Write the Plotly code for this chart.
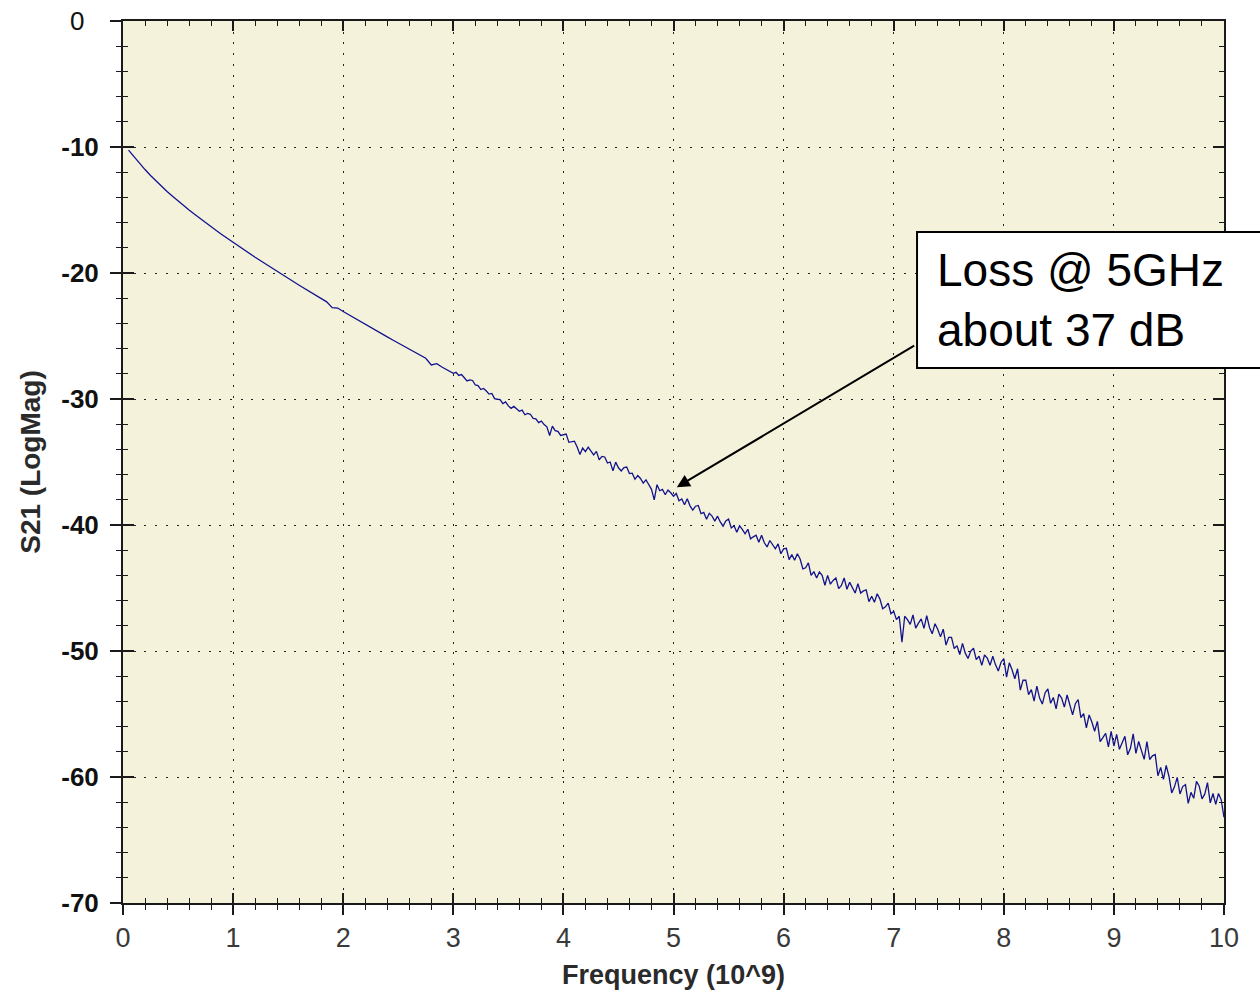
import plotly.graph_objects as go

# ---- data ----
# smooth low-frequency part, 0.05 GHz grid
freq_lo = [round(0.05 * i, 3) for i in range(1, 61)]
s21_lo = [
    -10.25, -10.78, -11.29, -11.79, -12.26, -12.71, -13.13, -13.53, -13.91, -14.29,
    -14.65, -15.00, -15.34, -15.68, -16.00, -16.33, -16.65, -16.96, -17.27, -17.57,
    -17.87, -18.16, -18.46, -18.75, -19.03, -19.32, -19.60, -19.88, -20.15, -20.43,
    -20.70, -20.97, -21.24, -21.50, -21.77, -22.03, -22.29, -22.75, -22.78, -23.06,
    -23.32, -23.57, -23.82, -24.08, -24.33, -24.58, -24.82, -25.07, -25.32, -25.56,
    -25.80, -26.05, -26.29, -26.53, -26.77, -27.30, -27.20, -27.48, -27.72, -27.96,
]
# noisy high-frequency part, 0.025 GHz grid (3.025 .. 10.0)
freq_hi = [round(3.0 + 0.025 * i, 3) for i in range(1, 281)]
s21_hi = [
    # 3.0 - 4.0
    -27.88, -28.13, -28.06, -28.33, -28.57, -28.49, -28.53, -28.89, -28.93, -29.25,
    -29.16, -29.37, -29.61, -29.56, -29.97, -30.02, -30.05, -30.36, -30.23, -30.55,
    -30.74, -30.59, -30.77, -30.98, -30.88, -31.25, -31.15, -31.21, -31.54, -31.58,
    -31.87, -31.76, -32.03, -32.21, -32.90, -32.15, -32.51, -32.57, -32.89, -32.81,
    # 4.0 - 5.0
    -32.78, -33.44, -33.38, -33.35, -33.81, -34.40, -33.89, -34.17, -33.82, -34.09,
    -34.43, -34.16, -34.83, -34.56, -34.60, -35.08, -35.00, -35.70, -35.01, -35.46,
    -35.71, -35.45, -35.40, -35.92, -35.89, -36.37, -36.07, -36.31, -36.68, -36.41,
    -36.84, -37.17, -38.00, -36.80, -37.28, -37.17, -37.60, -37.22, -37.44, -37.72,
    # 5.0 - 6.0
    -37.50, -38.08, -37.94, -38.40, -37.91, -38.48, -38.82, -38.51, -38.45, -39.10,
    -39.00, -39.54, -39.07, -39.29, -39.69, -39.30, -39.76, -40.09, -39.68, -39.52,
    -40.23, -40.06, -40.58, -40.07, -40.35, -40.70, -40.34, -41.10, -40.94, -40.81,
    -41.37, -40.82, -41.41, -41.74, -41.23, -41.52, -41.89, -41.50, -42.28, -41.89,
    # 6.0 - 7.0
    -41.85, -42.75, -42.35, -42.80, -42.28, -42.70, -43.48, -43.40, -43.00, -44.00,
    -43.70, -44.20, -43.73, -44.00, -44.78, -44.00, -44.70, -44.40, -44.20, -45.05,
    -44.80, -44.20, -45.10, -44.55, -44.95, -45.40, -44.65, -45.40, -45.23, -45.15,
    -46.08, -45.65, -46.13, -45.45, -45.88, -46.65, -46.50, -46.20, -47.05, -46.85,
    # 7.0 - 8.0
    -47.51, -47.24, -49.30, -47.24, -47.51, -47.89, -47.14, -48.18, -47.79, -47.45,
    -48.20, -47.20, -48.13, -48.64, -47.83, -48.28, -48.88, -48.27, -49.53, -48.92,
    -48.92, -49.81, -49.57, -50.28, -49.39, -50.17, -50.60, -50.00, -49.78, -50.69,
    -50.41, -51.14, -50.32, -50.57, -51.13, -50.42, -51.10, -51.59, -50.89, -50.60,
    # 8.0 - 9.0
    -52.07, -50.94, -51.49, -52.20, -51.41, -53.10, -52.31, -52.32, -53.46, -53.07,
    -53.97, -52.78, -53.74, -54.21, -53.33, -53.00, -54.15, -53.69, -54.60, -53.42,
    -53.74, -54.45, -53.49, -54.36, -55.07, -54.18, -53.85, -55.28, -54.97, -56.10,
    -55.07, -55.64, -56.37, -55.58, -57.19, -56.88, -56.53, -57.61, -56.38, -57.54,
    # 9.0 - 10.0
    -56.61, -57.80, -57.20, -56.77, -58.24, -57.72, -56.58, -58.13, -57.18, -57.84,
    -58.60, -57.19, -58.61, -58.32, -58.21, -59.90, -59.24, -60.19, -59.08, -59.94,
    -61.26, -60.78, -60.03, -61.35, -60.76, -60.61, -62.09, -61.22, -61.69, -60.35,
    -60.73, -61.73, -61.36, -60.44, -62.05, -61.31, -62.17, -61.31, -61.81, -63.20,
]
freq = freq_lo + freq_hi
s21 = s21_lo + s21_hi

x_tickvals = list(range(0, 11))
x_ticktext = [str(v) for v in x_tickvals]
y_tickvals = [0, -10, -20, -30, -40, -50, -60, -70]
y_ticktext = ["0&nbsp;&nbsp;"] + ["<b>%d</b>" % v for v in y_tickvals[1:]]

note_text = "Loss @ 5GHz<br>about 37 dB"
arrow_tip = (5.03, -37.0)
arrow_tail = (7.2, -25.7)

# ---- figure ----
FONT = "Liberation Sans, Arial, sans-serif"
AX = "#1a1a1a"
PLOT_BG = "#F4F2DA"

fig = go.Figure()
fig.add_trace(go.Scatter(x=freq, y=s21, mode="lines",
                         line=dict(color="#12128f", width=1.3),
                         showlegend=False, hoverinfo="skip"))
fig.add_trace(go.Scatter(x=[], y=[], xaxis="x2", yaxis="y2",
                         showlegend=False, hoverinfo="skip"))

grid_common = dict(showgrid=True, gridcolor="#222222", gridwidth=1,
                   griddash="2px,8.7px", zeroline=False, automargin=False)

fig.update_layout(
    width=1260, height=995,
    margin=dict(l=123, r=36, t=21, b=92),
    paper_bgcolor="white", plot_bgcolor=PLOT_BG,
    font=dict(family=FONT, color="#333333"),
    xaxis=dict(range=[0, 10], tickvals=x_tickvals, ticktext=x_ticktext,
               ticks="outside", ticklen=10, tickwidth=1.6, tickcolor=AX,
               showline=True, linecolor=AX, linewidth=2, mirror=True,
               minor=dict(dtick=0.2, ticks="outside", ticklen=5, tickwidth=1.4,
                          tickcolor=AX, showgrid=False),
               tickfont=dict(size=27, color="#3a3a3a"),
               ticklabelstandoff=0,
               title=dict(text="<b>Frequency (10^9)</b>",
                          font=dict(size=27, color="#2a2a2a"), standoff=13),
               **grid_common),
    yaxis=dict(range=[-70, 0], tickvals=y_tickvals, ticktext=y_ticktext,
               ticks="outside", ticklen=11, tickwidth=1.6, tickcolor=AX,
               showline=True, linecolor=AX, linewidth=2, mirror=True,
               minor=dict(dtick=2, ticks="outside", ticklen=5, tickwidth=1.4,
                          tickcolor=AX, showgrid=False),
               tickfont=dict(size=26, color="#111111"),
               ticklabelstandoff=6,
               title=dict(text="<b>S21 (LogMag)</b>",
                          font=dict(size=28, color="#2a2a2a"), standoff=12),
               **grid_common),
    xaxis2=dict(overlaying="x", range=[0, 10], dtick=1, side="bottom",
                ticks="inside", ticklen=10, tickwidth=1.6, tickcolor=AX,
                showline=True, linecolor=AX, linewidth=2, mirror="ticks",
                minor=dict(dtick=0.2, ticks="inside", ticklen=5, tickwidth=1.4,
                           tickcolor=AX, showgrid=False),
                showticklabels=False, showgrid=False, zeroline=False,
                automargin=False),
    yaxis2=dict(overlaying="y", range=[-70, 0], dtick=10, side="left",
                ticks="inside", ticklen=11, tickwidth=1.6, tickcolor=AX,
                showline=True, linecolor=AX, linewidth=2, mirror="ticks",
                minor=dict(dtick=2, ticks="inside", ticklen=5, tickwidth=1.4,
                           tickcolor=AX, showgrid=False),
                showticklabels=False, showgrid=False, zeroline=False,
                automargin=False),
)

# annotation box (white rectangle running off the right edge)
fig.add_shape(type="rect", xref="paper", yref="paper",
              x0=0.7212, x1=1.06, y0=0.6066, y1=0.7608,
              line=dict(color="black", width=2), fillcolor="white", layer="above")
fig.add_annotation(xref="paper", yref="paper", x=0.7375, y=0.6837,
                   xanchor="left", yanchor="middle", align="left",
                   text=note_text, showarrow=False,
                   font=dict(family=FONT, size=46, color="black"))
fig.add_annotation(x=arrow_tip[0], y=arrow_tip[1],
                   ax=arrow_tail[0], ay=arrow_tail[1], axref="x", ayref="y",
                   text="", showarrow=True, arrowhead=2, arrowsize=1.3,
                   arrowwidth=2, arrowcolor="black")

fig.write_html("out.html")
